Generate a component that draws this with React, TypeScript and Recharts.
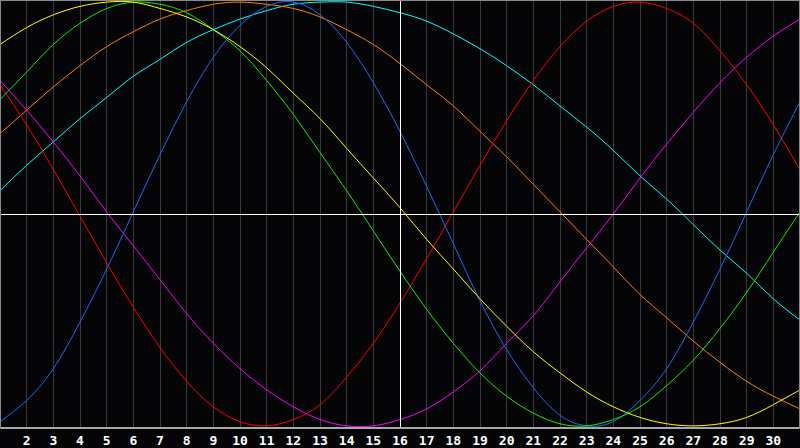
import React from "react"
import {
  LineChart,
  Line,
  XAxis,
  YAxis,
  CartesianGrid,
  ReferenceLine,
} from "recharts"

// days of the month shown on the x axis
const days = [
  1, 2, 3, 4, 5, 6, 7, 8, 9, 10, 11, 12, 13, 14, 15, 16,
  17, 18, 19, 20, 21, 22, 23, 24, 25, 26, 27, 28, 29, 30, 31,
]
const dayTicks = days.slice(1, 30)

// cycle values, -100..100
const blue = [-98, -88, -73, -51, -26, 1, 28, 53, 74, 89, 98, 100, 94, 81, 62, 39, 13, -14, -41, -64, -82, -95, -100, -98, -88, -73, -51, -26, 1, 28, 53]
const red = [61, 42, 21, -1, -23, -44, -63, -79, -91, -98, -100, -97, -90, -77, -61, -42, -21, 1, 23, 44, 63, 79, 91, 98, 100, 97, 90, 77, 61, 42, 21]
const magenta = [63, 49, 34, 18, 1, -15, -31, -47, -61, -73, -83, -91, -97, -100, -100, -97, -92, -84, -74, -61, -48, -32, -16, 0, 17, 33, 48, 62, 74, 84, 92]
const green = [54, 67, 80, 90, 97, 100, 99, 95, 87, 77, 63, 47, 29, 11, -8, -27, -45, -61, -75, -86, -94, -99, -100, -97, -91, -81, -69, -54, -37, -18, 1]
const yellow = [80, 88, 94, 98, 100, 100, 97, 93, 87, 79, 69, 57, 45, 31, 17, 3, -12, -26, -40, -53, -65, -75, -84, -91, -96, -99, -100, -99, -96, -90, -83]
const orange = [38, 49, 60, 70, 79, 86, 92, 96, 99, 100, 99, 97, 93, 87, 80, 71, 61, 51, 39, 27, 14, 1, -12, -25, -38, -49, -60, -70, -79, -86, -92]
const cyan = [11, 23, 34, 45, 55, 65, 73, 81, 87, 92, 96, 99, 100, 100, 98, 95, 91, 85, 78, 70, 61, 51, 41, 30, 18, 7, -5, -17, -28, -40, -50]

const series = [
  { key: "cyan", color: "#00ffff" },
  { key: "orange", color: "#ff7f00" },
  { key: "magenta", color: "#ff00ff" },
  { key: "red", color: "#ff0000" },
  { key: "blue", color: "#1a6aff" },
  { key: "green", color: "#11ee00" },
  { key: "yellow", color: "#ffff00" },
]

const data = days.map((day, i) => ({
  day,
  blue: blue[i],
  red: red[i],
  magenta: magenta[i],
  green: green[i],
  yellow: yellow[i],
  orange: orange[i],
  cyan: cyan[i],
}))

export default function App() {
  return (
    <div
      style={{
        position: "fixed",
        left: 0,
        top: 0,
        width: 800,
        height: 448,
        background: "#050508",
        overflow: "hidden",
      }}
    >
      <LineChart
        width={800}
        height={448}
        data={data}
        margin={{ top: 0, right: 0, bottom: 0, left: 0 }}
      >
        <CartesianGrid
          vertical
          horizontal={false}
          stroke="#3a3a3a"
          shapeRendering="crispEdges"
        />
        <XAxis
          dataKey="day"
          type="number"
          domain={[1, 31]}
          ticks={dayTicks}
          interval={0}
          height={20}
          tickLine={false}
          axisLine={{ stroke: "#a8a8a8", strokeWidth: 2 }}
          tick={{
            fill: "#ffffff",
            fontSize: 13,
            fontWeight: "bold",
            fontFamily: "DejaVu Sans Mono",
          }}
        />
        <YAxis hide domain={[-101, 101]} />
        {series.map((s) => (
          <Line
            key={s.key}
            dataKey={s.key}
            type="natural"
            stroke={s.color}
            strokeWidth={1}
            dot={false}
            activeDot={false}
            isAnimationActive={false}
          />
        ))}
        <ReferenceLine x={16} stroke="#ffffff" strokeWidth={1} shapeRendering="crispEdges" />
        <ReferenceLine y={0} stroke="#ffffff" strokeWidth={1} shapeRendering="crispEdges" />
      </LineChart>
      <div
        style={{
          position: "absolute",
          left: 0,
          top: 0,
          width: 800,
          height: 429,
          boxSizing: "border-box",
          borderTop: "1px solid #8a8a8a",
          borderLeft: "1px solid #8a8a8a",
          borderRight: "1px solid #8a8a8a",
          pointerEvents: "none",
        }}
      />
    </div>
  )
}
